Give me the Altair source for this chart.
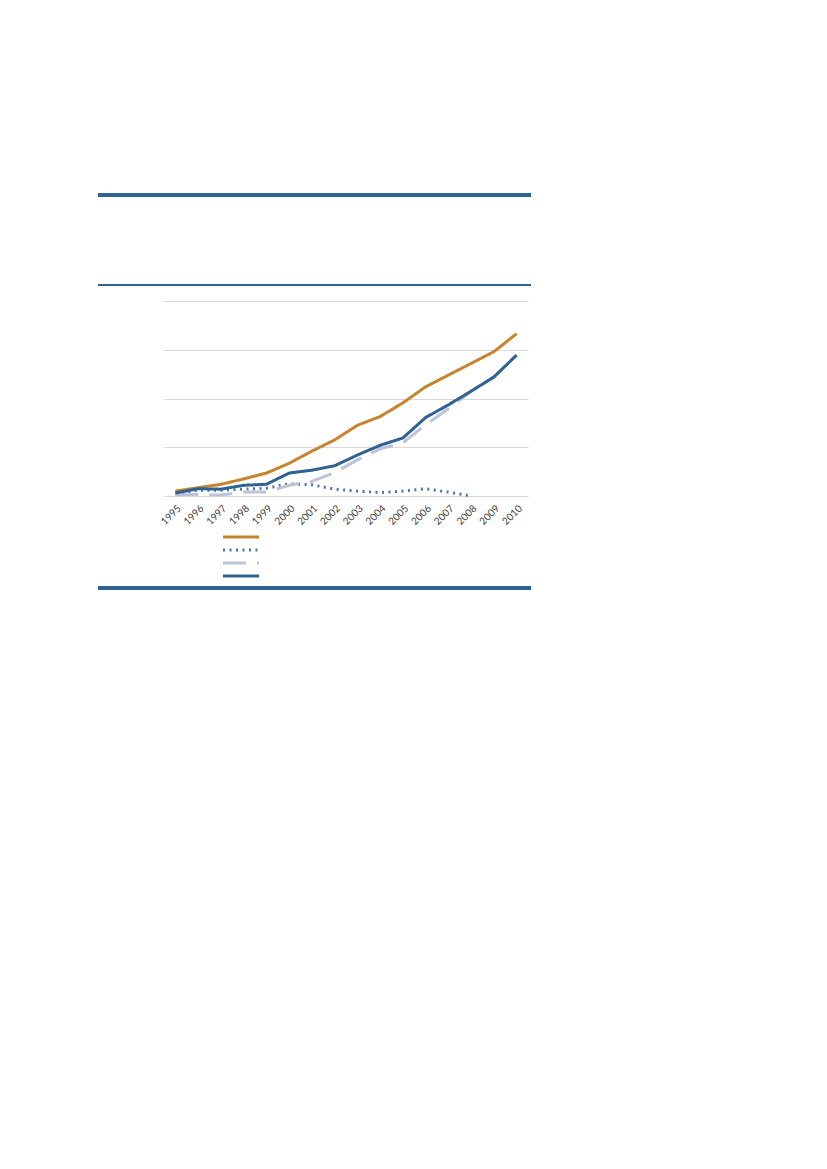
import altair as alt
import pandas as pd

years = [str(y) for y in range(1995, 2011)]
series_names = ["Series 1", "Series 2", "Series 3", "Series 4"]
s1 = [0.10, 0.17, 0.24, 0.35, 0.47, 0.67, 0.92, 1.15, 1.45, 1.63, 1.91, 2.24, 2.48, 2.72, 2.96, 3.33]
s2 = [0.04, 0.12, 0.12, 0.14, 0.16, 0.25, 0.23, 0.14, 0.10, 0.07, 0.10, 0.15, 0.08, 0.0, None, None]
s3 = [0.02, 0.03, 0.02, 0.08, 0.08, 0.22, 0.30, 0.48, 0.74, 0.97, 1.09, 1.46, 1.79, 2.15, 2.44, 2.89]
s4 = [0.06, 0.15, 0.14, 0.22, 0.24, 0.47, 0.53, 0.62, 0.84, 1.04, 1.19, 1.61, 1.87, 2.15, 2.44, 2.89]

colors = ["#C8832F", "#4A76A8", "#BCC3D8", "#2F6192"]
dashes = [[1, 0], [2, 4.5], [23, 11], [1, 0]]

rows = []
for name, vals in zip(series_names, [s1, s2, s3, s4]):
    for y, v in zip(years, vals):
        if v is not None:
            rows.append({"year": y, "value": v, "series": name})
df = pd.DataFrame(rows)

draw_order = {"Series 3": 0, "Series 2": 1, "Series 4": 2, "Series 1": 3}
df["order"] = df["series"].map(draw_order)

frame = "#2F6192"

lines = alt.Chart(df).mark_line(strokeWidth=3).encode(
    x=alt.X("year:O", title=None, sort=years,
            axis=alt.Axis(labelAngle=-45, domain=False, ticks=False, grid=False,
                          labelFontSize=10, labelColor="#404040", labelFont="Lato",
                          labelPadding=7)),
    y=alt.Y("value:Q", title=None, scale=alt.Scale(domain=[0, 4], nice=False),
            axis=alt.Axis(values=[0, 1, 2, 3, 4], labels=False, ticks=False, domain=False,
                          grid=True, gridColor="#D9D9D9", gridWidth=1)),
    color=alt.Color("series:N", sort=series_names,
                    scale=alt.Scale(domain=series_names, range=colors),
                    legend=alt.Legend(title=None, orient="none", legendX=71, legendY=230,
                                      symbolType="M-4,0H4", symbolSize=81, symbolStrokeWidth=3,
                                      symbolFillColor="transparent",
                                      labelExpr="''", rowPadding=1, labelFontSize=6)),
    strokeDash=alt.StrokeDash("series:N", sort=series_names,
                              scale=alt.Scale(domain=series_names, range=dashes),
                              legend=None),
    detail="series:N",
    order="order:Q",
)

top_bar = alt.Chart(df).mark_rule(color=frame, strokeWidth=4).encode(
    x=alt.value(-66), x2=alt.value(367), y=alt.value(-106))
thin_bar = alt.Chart(df).mark_rule(color=frame, strokeWidth=1.5).encode(
    x=alt.value(-66), x2=alt.value(367), y=alt.value(-16))
bottom_bar = alt.Chart(df).mark_rule(color=frame, strokeWidth=4).encode(
    x=alt.value(-66), x2=alt.value(367), y=alt.value(287))

chart = alt.layer(lines, top_bar, thin_bar, bottom_bar).properties(
    width=364, height=195,
    autosize=alt.AutoSizeParams(type="none"),
    padding={"left": 156, "top": 293, "right": 200, "bottom": 500},
).configure_view(stroke=None)

chart.save("out.html", embed_options={"renderer": "svg", "actions": False})
